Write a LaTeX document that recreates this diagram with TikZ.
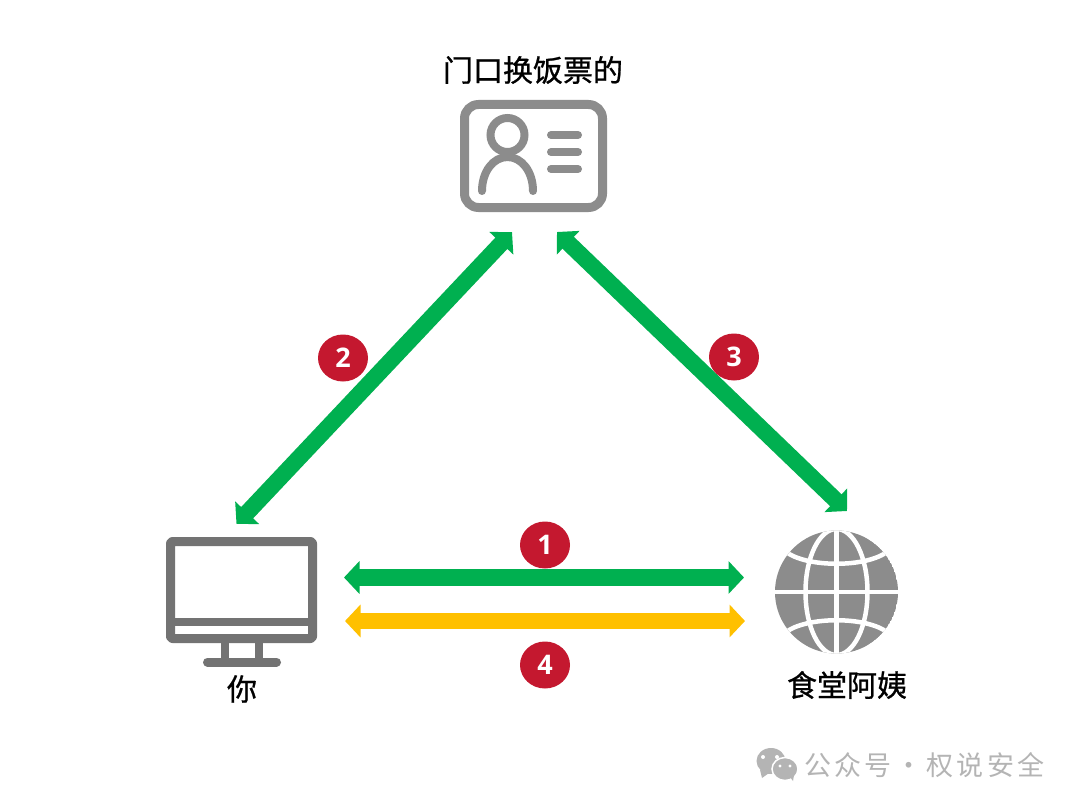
\documentclass[tikz,border=0pt]{standalone}
\usepackage{fontspec}
\setmainfont{Open Sans}
\newfontfamily\cjk[FakeBold=0.8]{Noto Sans CJK SC}
\newfontfamily\cjkwm[LetterSpace=12]{Noto Sans CJK SC}
\usetikzlibrary{arrows.meta,shapes.geometric}
\definecolor{arrowgreen}{HTML}{00B050}
\definecolor{arrowyellow}{HTML}{FFC000}
\definecolor{badgered}{HTML}{C4182F}
\definecolor{icongray}{HTML}{8C8C8C}
\definecolor{screengray}{HTML}{737373}
\definecolor{markgray}{HTML}{B4B4B4}
\tikzset{
  flow/.style={line width=16.5pt,{Triangle[width=32pt,length=15.5pt]}-{Triangle[width=32pt,length=15.5pt]}},
  badge/.style={ellipse,fill=badgered,text=white,minimum width=50pt,minimum height=47pt,inner sep=0pt,font=\bfseries\fontsize{27}{32}\selectfont},
  caption/.style={inner sep=0pt,text=black,font=\cjk\fontsize{30}{36}\selectfont},
  cardline/.style={icongray,line width=8pt,line cap=round},
  screenline/.style={screengray,line width=8.5pt},
  globeline/.style={white,line width=4.5pt}
}
\begin{document}
\begin{tikzpicture}[x=1pt,y=-1pt]
\useasboundingbox[fill=white] (0,0) rectangle (1080,808);
% captions
\node[caption] (cardlabel) at (533,70) {门口换饭票的};
\node[caption] (youlabel) at (242,689) {你};
\node[caption] (auntlabel) at (847,685) {食堂阿姨};
% id card
\draw[icongray,line width=9pt,rounded corners=14pt] (464.5,104.5) rectangle (602.5,207.5);
\draw[cardline] (507.5,135) circle (17);
\draw[cardline,fill=none] (482,191) .. controls (482,172) and (493,157) .. (507.5,157) .. controls (522,157) and (533,172) .. (533,191);
\draw[cardline] (551,135) -- (578,135);
\draw[cardline] (551,152) -- (578,152);
\draw[cardline] (551,169) -- (578,169);
% monitor
\draw[screengray,line width=9pt,rounded corners=2pt,line join=round] (170.5,541.5) rectangle (312.5,638.5);
\draw[screenline] (170.5,622) -- (312.5,622);
\draw[screenline] (225,640) -- (225,660);
\draw[screenline] (259,640) -- (259,660);
\draw[screengray,line width=9pt,line cap=round] (207.5,662) -- (276.5,662);
% globe
\begin{scope}
\clip (836.5,592) circle (61.5);
\fill[icongray] (836.5,592) circle (61.5);
\draw[globeline] (836.5,525) -- (836.5,660);
\draw[globeline] (770,592) -- (900,592);
\draw[globeline] (836.5,592) ellipse (31 and 63);
\draw[globeline] (785,551) .. controls (805,568) and (868,568) .. (888,551);
\draw[globeline] (785,633) .. controls (805,616) and (868,616) .. (888,633);
\end{scope}
% connector ends
\coordinate (a1l) at (344,577.5);
\coordinate (a1r) at (744,577.5);
\coordinate (a4l) at (345,621);
\coordinate (a4r) at (745,621);
\coordinate (a2t) at (512,232);
\coordinate (a2b) at (236.5,524);
\coordinate (a3t) at (557,232);
\coordinate (a3b) at (847,511);
\draw[flow,arrowgreen] (a1l) -- (a1r);
\draw[flow,arrowyellow] (a4l) -- (a4r);
\draw[flow,arrowgreen] (a2t) -- (a2b);
\draw[flow,arrowgreen] (a3t) -- (a3b);
% badges
\node[badge] (b1) at (545,545) {1};
\node[badge] (b2) at (343,358) {2};
\node[badge] (b3) at (734,357) {3};
\node[badge] (b4) at (545,665) {4};
% watermark
\fill[markgray] (771,761) ellipse (14.5 and 13);
\fill[markgray] (760,770) -- (762,778) -- (769,773) -- cycle;
\fill[white] (763,757) circle (2);
\fill[white] (777,757) circle (2);
\draw[white,line width=1.5pt,fill=markgray] (785,769) ellipse (13 and 11.5);
\fill[markgray] (790,777) -- (793,781) -- (794,775) -- cycle;
\fill[white] (780,766) circle (1.7);
\fill[white] (790,766) circle (1.7);
\node[inner sep=0pt,anchor=west,text=markgray] (mark) at (804,765) {\cjkwm\fontsize{27}{32}\selectfont 公众号\makebox[35pt]{·}权说安全};
\end{tikzpicture}
\end{document}
